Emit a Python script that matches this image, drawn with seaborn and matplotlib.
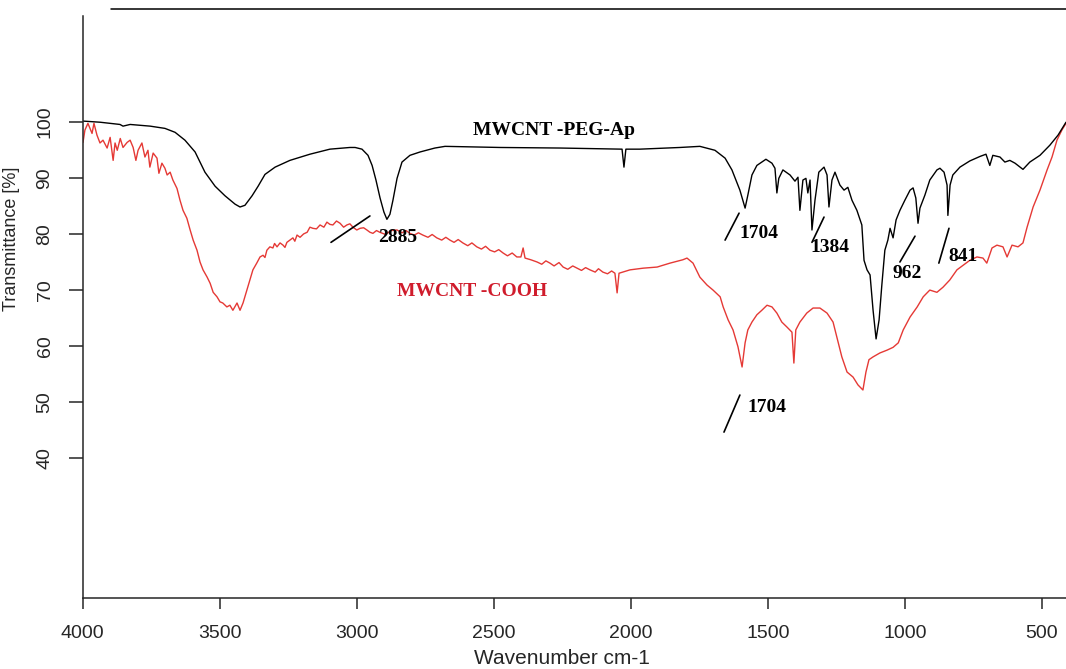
import matplotlib
matplotlib.use("Agg")
import matplotlib.pyplot as plt
import seaborn as sns

# FTIR spectra (wavenumber cm-1, transmittance %)
peg_wn = [3999, 3937, 3864, 3853, 3827, 3754, 3700, 3663, 3627, 3590, 3554, 3517, 3481, 3444,
          3426, 3408, 3382, 3360, 3335, 3298, 3244, 3171, 3098, 3025, 3006, 2981, 2959, 2944,
          2930, 2915, 2901, 2890, 2879, 2868, 2853, 2835, 2806, 2769, 2715, 2678, 2477, 2258,
          2040, 2032, 2025, 2018, 1967, 1821, 1748, 1693, 1656, 1631, 1602, 1583, 1573, 1558,
          1540, 1507, 1485, 1474, 1467, 1460, 1445, 1419, 1401, 1390, 1383, 1372, 1361, 1354,
          1346, 1339, 1328, 1314, 1295, 1284, 1277, 1266, 1255, 1237, 1222, 1208, 1193, 1175,
          1157, 1149, 1138, 1127, 1116, 1105, 1094, 1084, 1073, 1062, 1054, 1043, 1032, 1018,
          1000, 981, 970, 960, 952, 945, 927, 909, 883, 872, 857, 846, 843, 835, 825, 799, 763,
          726, 704, 690, 679, 653, 635, 617, 598, 569, 544, 507, 471, 441, 412]
peg_t = [100.1, 99.9, 99.5, 99.2, 99.5, 99.2, 98.8, 98.1, 96.7, 94.6, 91.0, 88.5, 86.8, 85.3,
         84.8, 85.1, 86.8, 88.5, 90.6, 91.9, 93.1, 94.2, 95.1, 95.4, 95.4, 95.1, 94.0, 92.2,
         89.6, 86.4, 83.9, 82.6, 83.5, 86.0, 89.9, 92.8, 94.0, 94.6, 95.3, 95.6, 95.4, 95.3,
         95.1, 95.1, 91.9, 95.1, 95.1, 95.4, 95.6, 94.9, 93.5, 91.4, 87.8, 84.6, 86.9, 90.5,
         92.2, 93.3, 92.6, 91.7, 87.3, 89.9, 91.4, 90.5, 89.4, 90.1, 84.2, 89.6, 89.9, 87.3,
         89.6, 80.7, 86.0, 91.0, 91.9, 90.5, 84.8, 89.6, 91.0, 88.7, 87.8, 88.3, 86.0, 84.2,
         81.6, 75.3, 73.6, 72.7, 66.4, 61.3, 64.7, 70.9, 77.1, 78.9, 81.0, 79.3, 82.5, 84.2,
         86.0, 87.8, 88.2, 86.4, 81.9, 84.6, 86.9, 89.6, 91.4, 91.7, 91.0, 88.7, 83.3, 88.7,
         90.5, 91.9, 93.0, 93.8, 94.2, 92.2, 94.0, 93.7, 92.8, 93.1, 92.6, 91.5, 92.8, 94.0,
         95.8, 97.6, 99.9]

cooh_wn = [3999, 3992, 3981, 3966, 3959, 3948, 3937, 3926, 3911, 3900,
           3889, 3882, 3874, 3863, 3853, 3838, 3827, 3816, 3806, 3798,
           3784, 3773, 3762, 3755, 3743, 3729, 3722, 3711, 3700, 3692,
           3681, 3671, 3656, 3645, 3634, 3620, 3608, 3597, 3583, 3572,
           3561, 3546, 3535, 3524, 3510, 3499, 3489, 3474, 3463, 3452,
           3437, 3426, 3415, 3401, 3390, 3379, 3365, 3353, 3342, 3335,
           3328, 3317, 3306, 3300, 3291, 3280, 3269, 3262, 3255, 3244,
           3233, 3226, 3218, 3207, 3194, 3181, 3171, 3160, 3147, 3134,
           3120, 3109, 3098, 3087, 3074, 3061, 3048, 3036, 3025, 3014,
           3000, 2988, 2975, 2963, 2952, 2941, 2928, 2916, 2895, 2875,
           2853, 2835, 2820, 2806, 2790, 2775, 2759, 2740, 2725, 2708,
           2690, 2675, 2660, 2645, 2630, 2613, 2595, 2580, 2562, 2545,
           2530, 2514, 2497, 2482, 2466, 2450, 2433, 2416, 2401, 2393,
           2386, 2365, 2342, 2325, 2310, 2295, 2280, 2262, 2247, 2230,
           2212, 2196, 2180, 2165, 2149, 2130, 2118, 2102, 2085, 2070,
           2058, 2050, 2043, 2003, 1955, 1904, 1857, 1810, 1795, 1773,
           1748, 1722, 1700, 1674, 1663, 1645, 1627, 1609, 1594, 1583,
           1573, 1558, 1540, 1522, 1503, 1485, 1467, 1449, 1430, 1412,
           1405, 1398, 1383, 1358, 1335, 1310, 1284, 1262, 1248, 1230,
           1211, 1189, 1171, 1153, 1142, 1131, 1116, 1091, 1065, 1043,
           1024, 1006, 981, 955, 933, 909, 883, 861, 836, 810,
           788, 763, 737, 715, 701, 682, 664, 642, 627, 609,
           587, 569, 554, 532, 507, 481, 463, 445, 427, 412]
cooh_t = [96.3, 98.5, 99.7, 97.9, 99.7, 97.6, 96.2, 96.7, 95.3, 97.2,
          93.1, 96.2, 94.9, 97.0, 95.4, 96.3, 96.7, 95.4, 93.1, 94.9,
          96.2, 93.7, 94.9, 91.9, 94.4, 93.5, 90.8, 92.6, 91.7, 90.5,
          91.0, 89.6, 88.1, 86.0, 84.2, 82.8, 80.7, 78.9, 77.1, 75.0,
          73.6, 72.3, 71.2, 69.6, 68.8, 67.9, 67.7, 67.0, 67.3, 66.4,
          67.7, 66.4, 67.7, 70.0, 71.8, 73.6, 74.8, 75.9, 76.2, 75.8,
          77.1, 77.7, 77.5, 78.3, 77.7, 78.4, 78.0, 77.6, 78.5, 78.9,
          79.3, 78.7, 79.8, 79.4, 80.0, 80.3, 81.2, 81.0, 80.9, 81.6,
          81.2, 82.1, 81.7, 81.6, 82.3, 81.9, 81.2, 81.6, 81.8, 81.2,
          80.7, 81.0, 81.1, 80.7, 80.3, 80.1, 80.6, 80.3, 79.9, 80.6,
          80.7, 80.2, 80.6, 80.1, 79.8, 80.2, 79.8, 79.4, 79.9, 79.3,
          78.9, 79.4, 78.9, 78.5, 79.0, 78.4, 77.9, 78.4, 77.7, 77.3,
          77.8, 77.1, 76.8, 77.2, 76.6, 76.1, 76.6, 75.9, 75.9, 77.5,
          75.7, 75.4, 75.0, 74.6, 75.2, 74.8, 74.3, 74.9, 74.1, 73.7,
          74.3, 73.9, 73.5, 74.0, 73.6, 73.2, 73.8, 73.2, 72.9, 73.4,
          73.0, 69.5, 73.0, 73.6, 73.9, 74.1, 74.8, 75.4, 75.7, 74.8,
          72.3, 70.9, 70.0, 68.8, 67.0, 64.7, 62.9, 59.9, 56.3, 60.6,
          62.9, 64.3, 65.6, 66.4, 67.3, 67.0, 65.9, 64.3, 63.4, 62.5,
          57.0, 62.9, 64.3, 65.9, 66.8, 66.8, 65.9, 64.3, 61.6, 58.1,
          55.4, 54.5, 53.1, 52.2, 55.4, 57.6, 58.1, 58.8, 59.3, 59.8,
          60.6, 62.9, 65.2, 67.0, 68.8, 70.0, 69.6, 70.5, 71.8, 73.6,
          74.4, 75.3, 75.9, 75.7, 74.8, 77.5, 78.0, 77.7, 75.9, 78.0,
          77.7, 78.4, 81.2, 84.8, 87.8, 91.4, 93.7, 96.7, 98.5, 99.7]

# peak labels: text, text anchor, leader line start/end (data units)
peak_labels = ["2885", "1704", "1384", "962", "841", "1704"]
peak_text_xy = [(2923, 79.4), (1602, 80.0), (1346, 77.5), (1044, 73.0), (843, 76.0), (1573, 49.0)]
peak_lines = [((3094, 78.5), (2952, 83.2)), ((1656, 78.9), (1605, 83.7)),
              ((1339, 78.5), (1295, 83.0)), ((1018, 75.0), (963, 79.6)),
              ((876, 74.8), (839, 81.0)), ((1660, 44.7), (1602, 51.3))]

sns.set_style("ticks")
plt.rcParams['font.family'] = ['Liberation Sans', 'DejaVu Sans']

fig = plt.figure(figsize=(10.66, 6.69), dpi=100)
ax = fig.add_axes([0.0776, 0.1057, 0.9224, 0.8803])

red = '#e53935'
sns.lineplot(x=cooh_wn, y=cooh_t, color=red, lw=1.0, sort=False, estimator=None, ax=ax)
sns.lineplot(x=peg_wn, y=peg_t, color='black', lw=1.0, sort=False, estimator=None, ax=ax)

ax.set_xlim(4000, 412)
ax.set_ylim(15.1, 120)

for s in ['top', 'right']:
    ax.spines[s].set_visible(False)
for s in ['left', 'bottom']:
    ax.spines[s].set_linewidth(1.1)
ax.spines['left'].set_bounds(15.1, 118.8)
ax.axhline(120, xmin=0.029, xmax=1, color='black', lw=1.1, clip_on=False)

ax.set_xticks([4000, 3500, 3000, 2500, 2000, 1500, 1000, 500])
ax.set_yticks([40, 50, 60, 70, 80, 90, 100])
ax.tick_params(axis='x', length=8, width=1.1, pad=11, labelsize=14)
ax.tick_params(axis='y', length=10, width=1.1, pad=11, labelsize=14)
for lab in ax.get_yticklabels():
    lab.set_rotation(90)
    lab.set_va('center')

ax.set_xlabel('Wavenumber cm-1', fontsize=15)
ax.set_ylabel('Transmittance [%]', fontsize=13)
ax.xaxis.set_label_coords(0.487, -0.086)
ax.yaxis.set_label_coords(-0.064, 0.61)

serif = ['Liberation Serif', 'DejaVu Serif']
ax.text(2576, 98.5, 'MWCNT -PEG-Ap', family=serif, fontweight='bold', fontsize=14,
        color='black', ha='left', va='center')
ax.text(2853, 69.8, 'MWCNT -COOH', family=serif, fontweight='bold', fontsize=14,
        color='#d01c2c', ha='left', va='center')

for lab, (tx, ty), ((x0, y0), (x1, y1)) in zip(peak_labels, peak_text_xy, peak_lines):
    ax.plot([x0, x1], [y0, y1], color='black', lw=1.2)
    ax.text(tx, ty, lab, family=serif, fontweight='bold', fontsize=14,
            color='black', ha='left', va='center')

fig.savefig('out.png', dpi=100)
